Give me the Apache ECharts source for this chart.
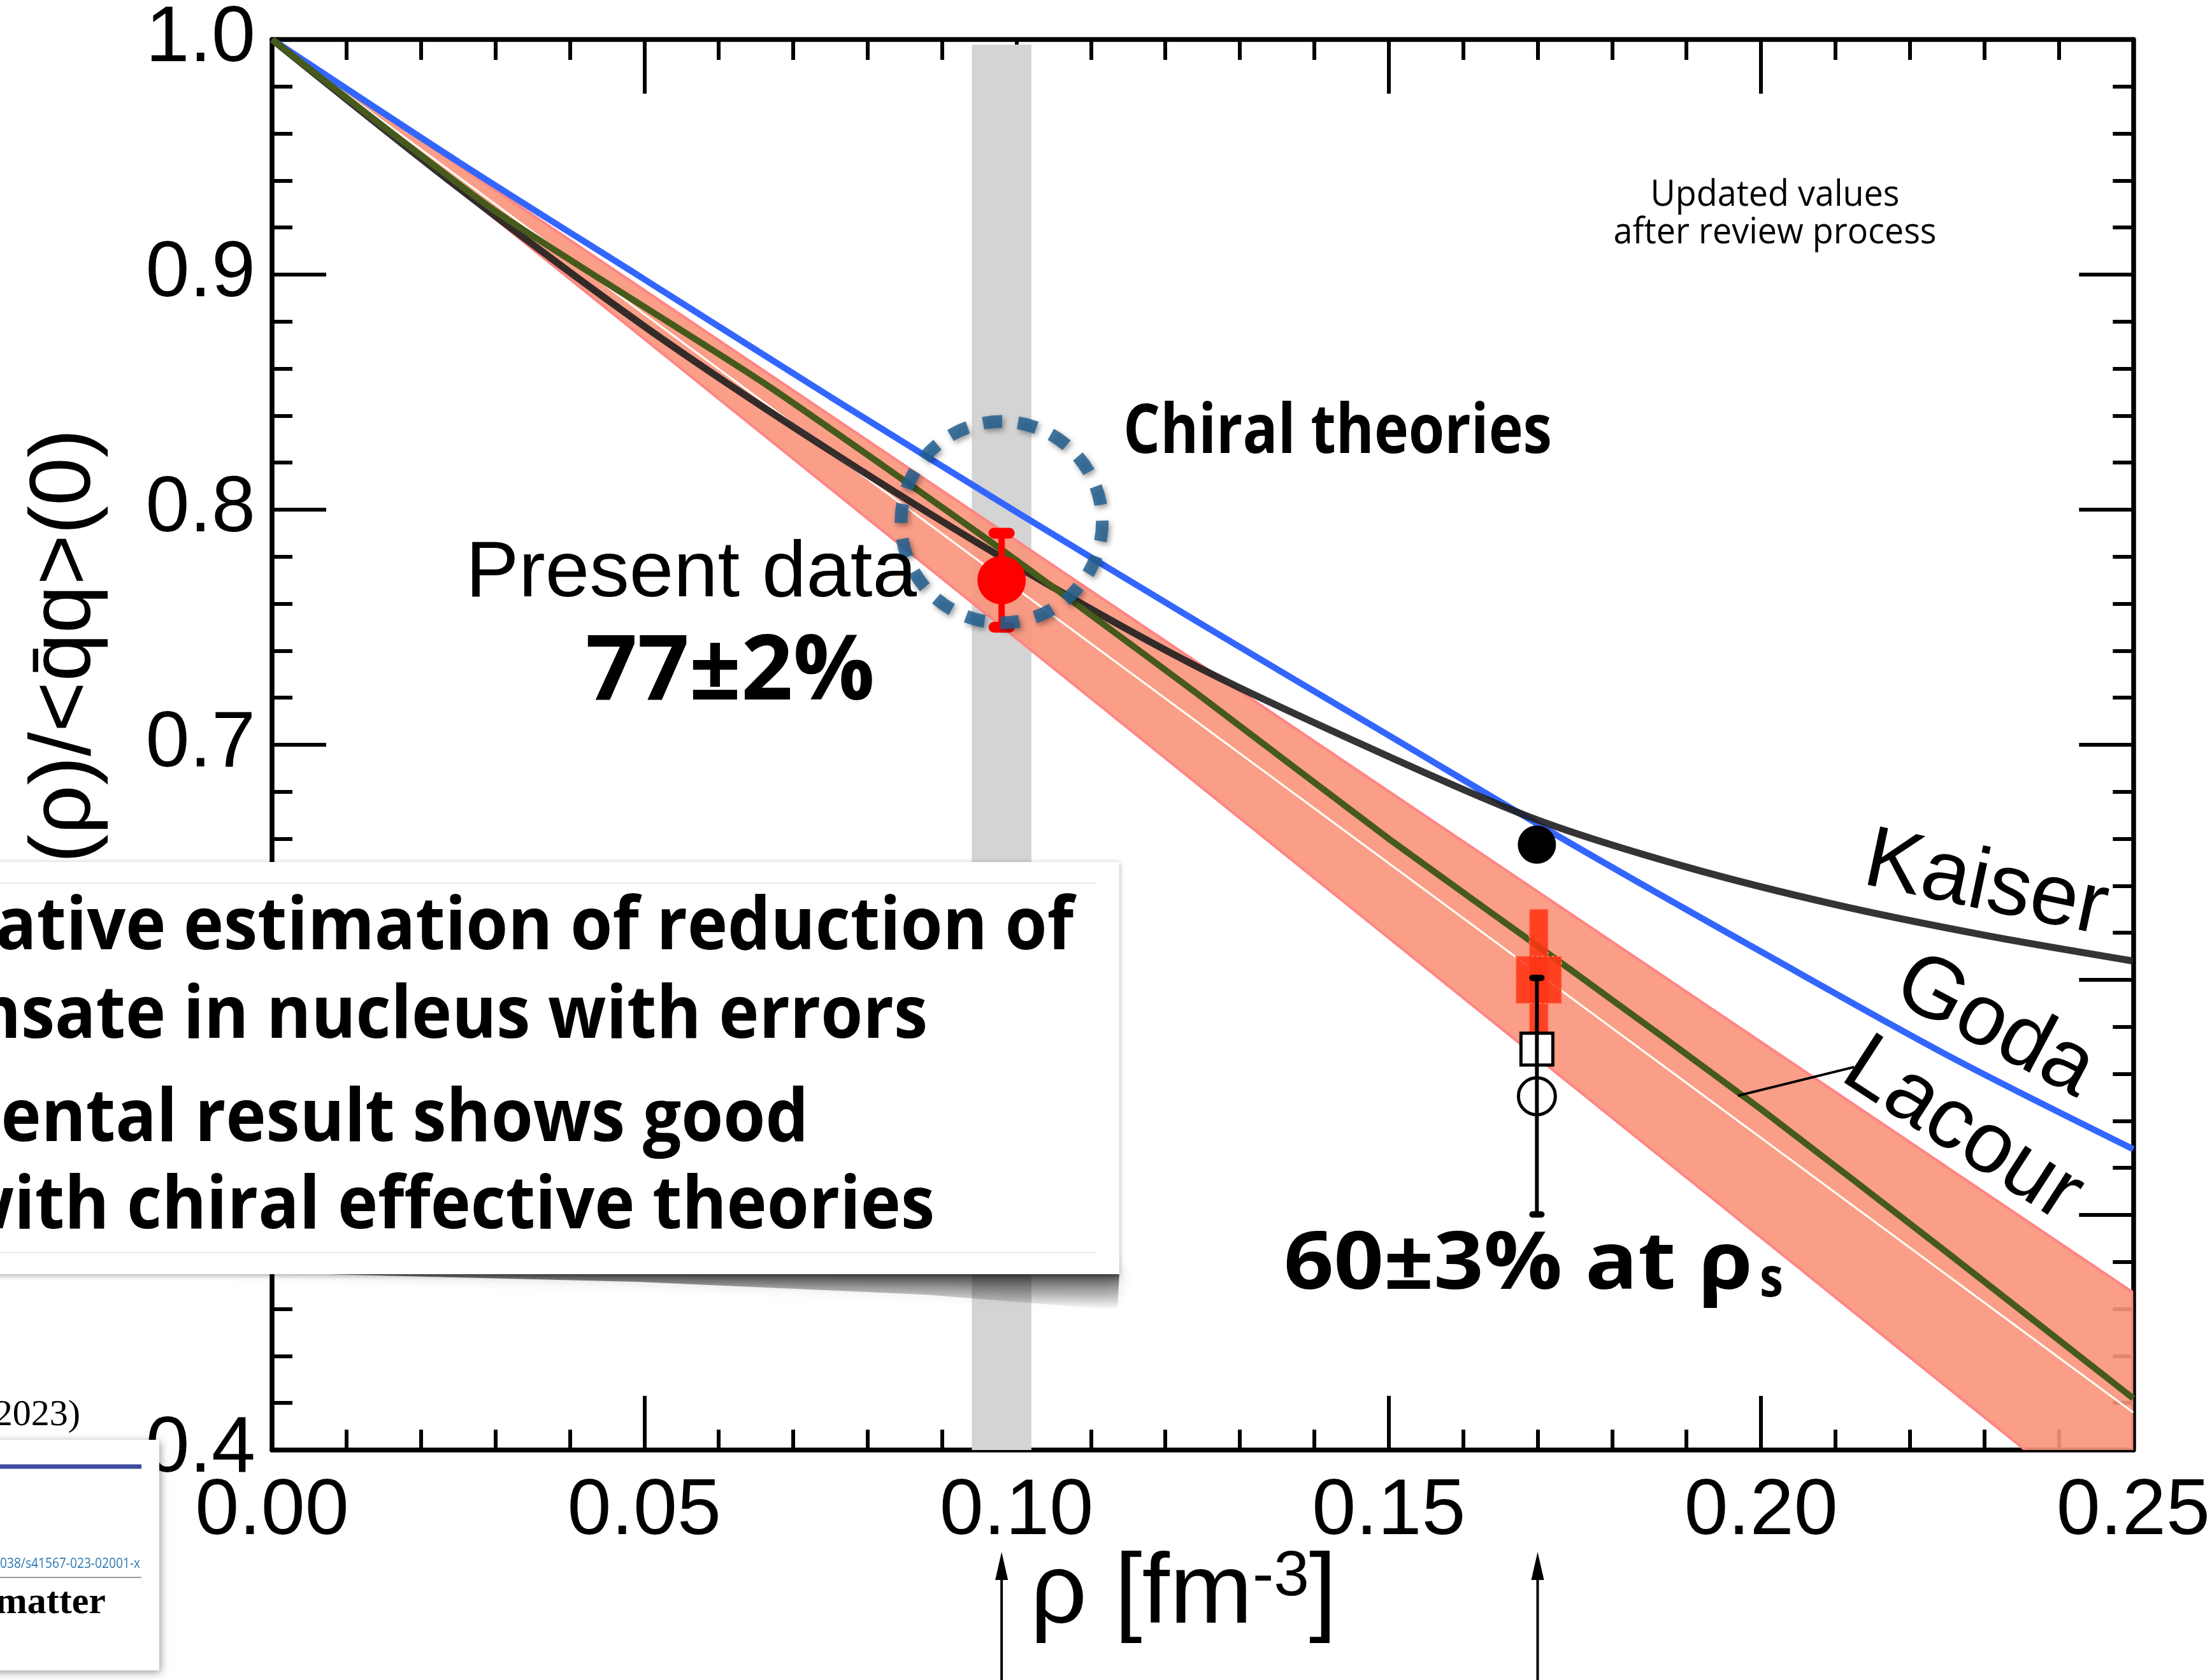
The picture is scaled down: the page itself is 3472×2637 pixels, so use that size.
<!DOCTYPE html>
<html>
<head>
<meta charset="utf-8">
<script src="https://cdn.jsdelivr.net/npm/echarts@6/dist/echarts.min.js"></script>
<style>
  html, body { margin: 0; padding: 0; background: #fff; }
  #chart { width: 3472px; height: 2637px; }
</style>
</head>
<body>
<div id="chart"></div>
<script>
// ---- axis ranges ----
const xRange = [0, 0.25];
const yRange = [0.4, 1.0];
const xTickStep = 0.05;
const yTickStep = 0.1;

// ---- theory curves: <qq>(rho)/<qq>(0) versus density ----
const kaiserX = [0, 0.025, 0.05, 0.075, 0.1, 0.125, 0.15, 0.17, 0.19, 0.21, 0.23, 0.25];
const kaiserY = [1.0, 0.937, 0.878, 0.825, 0.776, 0.732, 0.695, 0.668, 0.648, 0.632, 0.619, 0.608];

const godaX = [0, 0.025, 0.05, 0.075, 0.1, 0.125, 0.15, 0.175, 0.2, 0.225, 0.25];
const godaY = [1.0, 0.948, 0.898, 0.848, 0.799, 0.751, 0.704, 0.657, 0.612, 0.568, 0.528];

const lacourX = [0, 0.03, 0.066, 0.098, 0.125, 0.15, 0.175, 0.2, 0.225, 0.25];
const lacourY = [1.0, 0.927, 0.854, 0.783, 0.72, 0.66, 0.603, 0.545, 0.484, 0.422];

// ---- linear-density band with its central line ----
const bandX = [0, 0.25];
const bandUpper = [1.0, 0.467];
const bandLower = [1.0, 0.363];
const bandCenter = [1.0, 0.416];

// ---- density window probed by the measurement ----
const densityWindow = [0.094, 0.102];

// ---- present data: 77 +- 2 % ----
const presentPoint = [0.098, 0.77];
const presentError = 0.02;

// ---- values at saturation density ----
const satFilled = [0.1699, 0.6575];
const satSquare = [0.1699, 0.5705];
const satCircle = [0.1699, 0.5505];
const satErrorBar = [0.1699, 0.5002, 0.6008];
// extrapolated result 60 +- 3 %: [x0, x1, yLow, yHigh]
const satBoxes = [
  [0.1689, 0.1714, 0.57, 0.63],
  [0.1671, 0.1732, 0.59, 0.61]
];

// ---- annotation anchors (data coordinates) ----
const chiralCircleCenter = [0.098, 0.7947];
const lacourLeader = [[0.1969, 0.5507], [0.2125, 0.5629]];
const arrowX = [0.098, 0.17];

const pairs = (xs, ys) => xs.map((x, i) => [x, ys[i]]);

const chart = echarts.init(document.getElementById('chart'), null, { renderer: 'canvas' });

const axisLineStyle = { color: '#000', width: 7.5 };
function makeAxis(extra) {
  return Object.assign({
    type: 'value',
    axisLine: { show: true, onZero: false, lineStyle: axisLineStyle },
    axisTick: { show: true, inside: true, length: 85, lineStyle: { color: '#000', width: 6 } },
    minorTick: { show: true, splitNumber: 5, length: 32, lineStyle: { color: '#000', width: 6 } },
    splitLine: { show: false },
    minorSplitLine: { show: false }
  }, extra);
}

const labelFont = '"Liberation Sans", Arial, sans-serif';

function errorBarRenderer(capHalf, width, capWidth, color) {
  return function (params, api) {
    const x = api.value(0);
    const p0 = api.coord([x, api.value(1)]);
    const p1 = api.coord([x, api.value(2)]);
    const st = { stroke: color, lineWidth: width, lineCap: 'round' };
    const cst = { stroke: color, lineWidth: capWidth, lineCap: 'round' };
    return {
      type: 'group',
      children: [
        { type: 'line', shape: { x1: p0[0], y1: p0[1], x2: p1[0], y2: p1[1] }, style: st },
        { type: 'line', shape: { x1: p0[0] - capHalf, y1: p0[1], x2: p0[0] + capHalf, y2: p0[1] }, style: cst },
        { type: 'line', shape: { x1: p1[0] - capHalf, y1: p1[1], x2: p1[0] + capHalf, y2: p1[1] }, style: cst }
      ]
    };
  };
}

const option = {
  animation: false,
  backgroundColor: '#ffffff',
  grid: { left: 427, top: 55, width: 2926, height: 2221 },
  xAxis: [
    makeAxis({
      min: xRange[0], max: xRange[1], interval: xTickStep, position: 'bottom',
      axisLabel: { fontSize: 124, fontFamily: labelFont, color: '#000', margin: 36,
        formatter: v => v.toFixed(2) },
      name: '{a|ρ [fm}{s|-3}{a|]}',
      nameLocation: 'middle',
      nameGap: 150,
      nameMoveOverlap: false,
      nameTextStyle: {
        padding: [0, 60, 0, 0],
        rich: {
          a: { fontSize: 156, fontFamily: labelFont, color: '#000' },
          s: { fontSize: 100, fontFamily: labelFont, color: '#000', verticalAlign: 'top' }
        }
      }
    }),
    makeAxis({ min: xRange[0], max: xRange[1], interval: xTickStep, position: 'top',
      axisLabel: { show: false } })
  ],
  yAxis: [
    makeAxis({
      min: yRange[0], max: yRange[1], interval: yTickStep, position: 'left',
      axisLabel: { fontSize: 124, fontFamily: labelFont, color: '#000', margin: 26,
        formatter: v => v.toFixed(1) },
      name: '<q\u0304q>(ρ)/<q\u0304q>(0)',
      nameLocation: 'middle',
      nameGap: 256,
      nameMoveOverlap: false,
      nameTextStyle: { fontSize: 136, fontFamily: labelFont, color: '#000' }
    }),
    makeAxis({ min: yRange[0], max: yRange[1], interval: yTickStep, position: 'right',
      axisLabel: { show: false } })
  ],
  series: [
    {
      type: 'custom', name: 'density window', z: 1, silent: true,
      data: [[densityWindow[0], densityWindow[1], yRange[0], yRange[1]]],
      encode: { x: [0, 1], y: [2, 3] },
      renderItem: (params, api) => {
        const a = api.coord([api.value(0), api.value(3)]);
        const b = api.coord([api.value(1), api.value(2)]);
        return { type: 'rect', shape: { x: a[0], y: a[1] + 8, width: b[0] - a[0], height: b[1] - a[1] - 8 },
          style: { fill: '#d4d4d4' } };
      }
    },
    {
      // shaded band between the upper and lower edges, clipped to the plot area
      type: 'custom', name: 'band', z: 2, silent: true,
      data: [[bandX[0], bandUpper[0]]], encode: { x: 0, y: 1 },
      renderItem: (params, api) => {
        const up = bandX.map((x, i) => api.coord([x, bandUpper[i]]));
        const lo = bandX.map((x, i) => api.coord([x, bandLower[i]])).reverse();
        const cs = params.coordSys;
        return {
          type: 'group',
          clipPath: { type: 'rect', shape: { x: cs.x, y: cs.y, width: cs.width, height: cs.height } },
          children: [
            { type: 'polygon', shape: { points: up.concat(lo) },
              style: { fill: 'rgba(250,148,122,0.9)', stroke: '#ff8585', lineWidth: 4 } }
          ]
        };
      }
    },
    {
      type: 'line', name: 'band centre', z: 2, silent: true,
      data: pairs(bandX, bandCenter), symbol: 'none',
      lineStyle: { color: '#ffffff', width: 3 }
    },
    {
      type: 'line', name: 'Goda', z: 3, silent: true, smooth: 0.3,
      data: pairs(godaX, godaY), symbol: 'none',
      lineStyle: { color: '#3366ff', width: 10 }
    },
    {
      type: 'line', name: 'Kaiser', z: 3, silent: true, smooth: 0.3,
      data: pairs(kaiserX, kaiserY), symbol: 'none',
      lineStyle: { color: '#1e1e1e', width: 11, opacity: 0.9 }
    },
    {
      type: 'line', name: 'Lacour', z: 3, silent: true, smooth: 0.2,
      data: pairs(lacourX, lacourY), symbol: 'none',
      lineStyle: { color: '#465a1c', width: 10 }
    },
    {
      type: 'line', name: 'Lacour leader', z: 3, silent: true,
      data: lacourLeader, symbol: 'none',
      lineStyle: { color: '#000', width: 4 }
    },
    {
      type: 'custom', name: 'saturation boxes', z: 4, silent: true,
      data: satBoxes, encode: { x: [0, 1], y: [2, 3] },
      renderItem: (params, api) => {
        const a = api.coord([api.value(0), api.value(3)]);
        const b = api.coord([api.value(1), api.value(2)]);
        return { type: 'rect', shape: { x: a[0], y: a[1], width: b[0] - a[0], height: b[1] - a[1] },
          style: { fill: 'rgba(255,52,20,0.88)', stroke: '#ff7a5e', lineWidth: 2, lineDash: [4, 4] } };
      }
    },
    {
      type: 'scatter', name: 'square', z: 5, silent: true,
      data: [satSquare], symbol: 'rect', symbolSize: 50,
      itemStyle: { color: '#ffffff', borderColor: '#000', borderWidth: 5, opacity: 1 }
    },
    {
      type: 'scatter', name: 'circle', z: 5, silent: true,
      data: [satCircle], symbol: 'circle', symbolSize: 58,
      itemStyle: { color: '#ffffff', borderColor: '#000', borderWidth: 5, opacity: 1 }
    },
    {
      type: 'custom', name: 'saturation error', z: 6, silent: true,
      data: [satErrorBar], encode: { x: 0, y: [1, 2] },
      renderItem: errorBarRenderer(7, 6, 10, '#000')
    },
    {
      type: 'scatter', name: 'filled', z: 6, silent: true,
      data: [satFilled], symbol: 'circle', symbolSize: 60,
      itemStyle: { color: '#000', opacity: 1 }
    },
    {
      type: 'custom', name: 'present error', z: 7, silent: true,
      data: [[presentPoint[0], presentPoint[1] - presentError, presentPoint[1] + presentError]],
      encode: { x: 0, y: [1, 2] },
      renderItem: errorBarRenderer(12, 10, 17, '#ff0000')
    },
    {
      type: 'scatter', name: 'Present data', z: 8, silent: true,
      data: [presentPoint], symbol: 'circle', symbolSize: 76,
      itemStyle: { color: '#ff0000', opacity: 1 }
    },
    {
      type: 'custom', name: 'chiral circle', z: 9, silent: true,
      data: [chiralCircleCenter], encode: { x: 0, y: 1 },
      renderItem: (params, api) => {
        const c = api.coord([api.value(0), api.value(1)]);
        return { type: 'circle', shape: { cx: c[0], cy: c[1], r: 158 },
          style: { fill: 'none', stroke: 'rgba(35,96,145,0.85)', lineWidth: 20, lineDash: [30, 25],
            shadowBlur: 8, shadowColor: 'rgba(0,0,0,0.45)', shadowOffsetX: 3, shadowOffsetY: 4 } };
      }
    }
  ]
};

chart.setOption(option);

// ---- text measuring for condensed faces ----
const mctx = document.createElement('canvas').getContext('2d');
function measure(str, size, weight, family) {
  mctx.font = weight + ' ' + size + 'px ' + family;
  return mctx.measureText(str).width;
}
const sansBold = '"Open Sans", "Noto Sans", sans-serif';
const sans = '"Open Sans", "Noto Sans", sans-serif';

function textEl(str, x, y, size, weight, family, align, targetWidth, extra) {
  const sx = targetWidth ? targetWidth / measure(str, size, weight, family) : 1;
  return Object.assign({
    type: 'text', x: x, y: y, scaleX: sx, z: 120,
    style: { text: str, fontSize: size, fontWeight: weight, fontFamily: family,
      fill: '#000', align: align, verticalAlign: 'middle' }
  }, extra || {});
}

const g = [];

// plot annotations
g.push(textEl('Present data', 731, 902, 125, 'normal', labelFont, 'left', 708));
g.push(textEl('77±2%', 919, 1058, 142, 'bold', sansBold, 'left', 454));
g.push(textEl('Chiral theories', 1763, 680, 108, 'bold', sansBold, 'left', 673));
g.push(textEl('Updated values', 2786, 307, 56, 'normal', sans, 'center',
  507 * measure('Updated values', 56, 'normal', sans) / measure('after review process', 56, 'normal', sans)));
g.push(textEl('after review process', 2786, 366, 56, 'normal', sans, 'center', 507));
g.push(textEl('60±3% at ρ', 2015, 1987, 125, 'bold', sansBold, 'left', 736));
g.push(textEl('s', 2762, 2010, 86, 'bold', sansBold, 'left', 37));

// curve names
g.push({ type: 'text', x: 3117, y: 1390, rotation: -12 * Math.PI / 180, z: 120,
  style: { text: 'Kaiser', fontSize: 136, fontFamily: labelFont, fill: '#000', align: 'center', verticalAlign: 'middle' } });
g.push({ type: 'text', x: 3131, y: 1612, rotation: -28 * Math.PI / 180, z: 120,
  style: { text: 'Goda', fontSize: 136, fontFamily: labelFont, fill: '#000', align: 'center', verticalAlign: 'middle' } });
g.push({ type: 'text', x: 3080, y: 1775, rotation: -33 * Math.PI / 180, z: 120,
  style: { text: 'Lacour', fontSize: 136, fontFamily: labelFont, fill: '#000', align: 'center', verticalAlign: 'middle' } });

// arrows under the density axis
arrowX.forEach(v => {
  const px = chart.convertToPixel({ xAxisIndex: 0 }, v);
  g.push({ type: 'line', z: 120, shape: { x1: px, y1: 2470, x2: px, y2: 2637 },
    style: { stroke: '#000', lineWidth: 4 } });
  g.push({ type: 'polygon', z: 120, shape: { points: [[px, 2436], [px - 10, 2480], [px + 10, 2480]] },
    style: { fill: '#000' } });
});

// summary panel with a curled shadow under its lower right part
g.push({ type: 'polygon', z: 110,
  shape: { points: [[350, 1996], [1757, 1996], [1754, 2056], [1450, 2032], [1000, 2012]] },
  style: {
    fill: { type: 'linear', x: 0, y: 0, x2: 0, y2: 1, colorStops: [
      { offset: 0, color: 'rgba(0,0,0,0.7)' },
      { offset: 0.4, color: 'rgba(0,0,0,0.35)' },
      { offset: 1, color: 'rgba(0,0,0,0.0)' } ] },
    shadowBlur: 22, shadowColor: 'rgba(0,0,0,0.35)'
  } });
g.push({ type: 'rect', z: 111, shape: { x: -20, y: 1353, width: 1777, height: 647 },
  style: { fill: '#ffffff', shadowBlur: 8, shadowColor: 'rgba(0,0,0,0.35)', shadowOffsetY: 2 } });
g.push({ type: 'line', z: 112, shape: { x1: 0, y1: 1386, x2: 1722, y2: 1386 },
  style: { stroke: '#ececec', lineWidth: 2 } });
g.push({ type: 'line', z: 112, shape: { x1: 0, y1: 1966, x2: 1722, y2: 1966 },
  style: { stroke: '#ececec', lineWidth: 2 } });

const boxLines = [
  ['ative estimation of reduction of', 1685, 1458],
  ['nsate in nucleus with errors', 1456, 1597],
  ['ental result shows good', 1269, 1759],
  ['with chiral effective theories', 1467, 1896]
];
const boxSize = 114;
const boxScale = 1692 / measure(boxLines[0][0], boxSize, 'bold', sansBold);
boxLines.forEach(([str, right, y]) => {
  g.push({ type: 'text', x: right, y: y, scaleX: boxScale, z: 120,
    style: { text: str, fontSize: boxSize, fontWeight: 'bold', fontFamily: sansBold,
      fill: '#000', align: 'right', verticalAlign: 'middle' } });
});

// journal reference card
g.push(textEl('2023)', 126, 2222, 58, 'normal', '"Liberation Serif", serif', 'right', null));
g.push({ type: 'rect', z: 111, shape: { x: -20, y: 2260, width: 270, height: 362 },
  style: { fill: '#ffffff', shadowBlur: 12, shadowColor: 'rgba(0,0,0,0.4)', shadowOffsetX: 2, shadowOffsetY: 3 } });
g.push({ type: 'line', z: 112, shape: { x1: 0, y1: 2302, x2: 222, y2: 2302 },
  style: { stroke: '#3d4b9c', lineWidth: 7 } });
g.push({ type: 'text', x: 220, y: 2455, z: 120,
  scaleX: 220 / measure('038/s41567-023-02001-x', 21, 'normal', sans),
  style: { text: '038/s41567-023-02001-x', fontSize: 21, fontFamily: sans, fill: '#2b78b4',
    align: 'right', verticalAlign: 'middle' } });
g.push({ type: 'line', z: 112, shape: { x1: 0, y1: 2476, x2: 222, y2: 2476 },
  style: { stroke: '#9a9a9a', lineWidth: 2 } });
g.push(textEl('matter', 166, 2516, 60, 'bold', '"Liberation Serif", serif', 'right', null));

chart.setOption({ graphic: { elements: g } });
</script>
</body>
</html>
